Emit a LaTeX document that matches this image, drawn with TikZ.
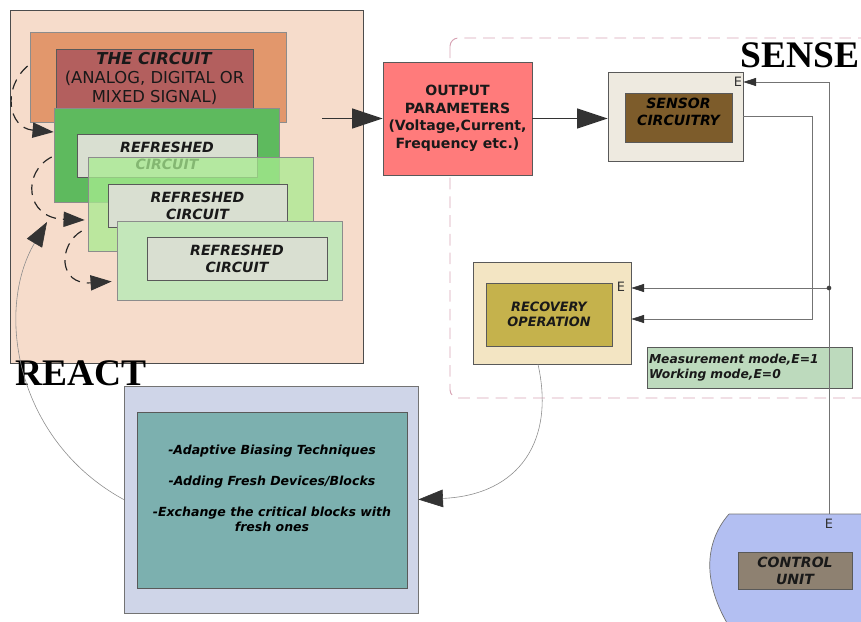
\documentclass[tikz,border=0pt]{standalone}
\usepackage{fontspec}
\setmainfont{DejaVu Sans}
\newfontfamily\bigserif{Liberation Serif}
\usetikzlibrary{arrows.meta}

\definecolor{peach}{HTML}{F6DCCB}
\definecolor{orangeb}{HTML}{E2976C}
\definecolor{circred}{HTML}{B35F5E}
\definecolor{grnA}{HTML}{5EBA5E}
\definecolor{grayin}{HTML}{D9DFD1}
\definecolor{grnB}{HTML}{A8EC90}
\definecolor{grnC}{HTML}{C3E7BA}
\definecolor{outred}{HTML}{FF7B7B}
\definecolor{sensbg}{HTML}{EEEAE0}
\definecolor{sensin}{HTML}{7D5C2B}
\definecolor{recbg}{HTML}{F3E5C3}
\definecolor{recin}{HTML}{C5B24C}
\definecolor{modebg}{HTML}{BDDABD}
\definecolor{reactbg}{HTML}{CFD5E8}
\definecolor{reactin}{HTML}{7CB0AF}
\definecolor{ctrlbg}{HTML}{B3BFF2}
\definecolor{ctrlin}{HTML}{8E8171}
\definecolor{sensepink}{HTML}{D7A3B4}
\definecolor{tipgray}{HTML}{333333}

\tikzset{
  blk/.style={draw=black!65, line width=0.6pt, inner sep=0pt, align=center, text=black!90},
  txtA/.style={font=\fontsize{12}{14.5}\selectfont\bfseries\itshape},
  txtB/.style={font=\fontsize{11}{13}\selectfont\bfseries\itshape},
  txtC/.style={font=\fontsize{10.7}{12.5}\selectfont\bfseries\itshape},
  elbl/.style={font=\fontsize{11}{13}\selectfont, text=black!80, inner sep=0pt},
  wire/.style={draw=black!55, line width=0.6pt},
  thinwire/.style={draw=black!45, line width=0.5pt},
  mainar/.style={draw=tipgray, line width=1pt, -{Triangle[length=26pt,width=17pt]}},
  smallar/.style={-{Triangle[length=11pt,width=7pt,color=tipgray]}},
  loopar/.style={draw=black!85, line width=1pt, dash pattern=on 9pt off 6pt,
    -{Triangle[length=18pt,width=13pt,color=tipgray]}},
  reactar/.style={thinwire, -{Triangle[length=21pt,width=15pt,color=tipgray]}},
}

\begin{document}
\begin{tikzpicture}[x=0.03cm, y=-0.03cm]
  \useasboundingbox (0,0) rectangle (861,622);
  \clip (0,0) rectangle (861,622);

  % Sense region
  \draw[sensepink, line width=0.8pt, dash pattern=on 10pt off 6pt, rounded corners=0.25cm]
    (450,38) rectangle (900,398);
  \node[font=\bigserif\fontsize{32}{36}\selectfont\bfseries, anchor=base west, inner sep=0pt]
    (sense) at (740,68) {SENSE};

  % Circuit stack
  \node[blk, fill=peach, draw=black!70, minimum width=10.59cm, minimum height=10.59cm]
    (circzone) at (186.5,186.5) {};
  \node[blk, fill=orangeb, draw=black!45, minimum width=7.68cm, minimum height=2.7cm]
    (orig) at (158,77) {};
  \node[blk, fill=circred, minimum width=5.91cm, minimum height=1.77cm,
    font=\fontsize{14}{16.5}\selectfont] (circ) at (154.5,78.5)
    {\textbf{\textit{THE CIRCUIT}}\\(ANALOG, DIGITAL OR\\MIXED SIGNAL)};
  \node[blk, fill=grnA, draw=black!45, minimum width=6.75cm, minimum height=2.82cm]
    (refA) at (166.5,155) {};
  \node[blk, fill=grayin, txtA, minimum width=5.4cm, minimum height=1.29cm]
    (refAin) at (167,155.5) {REFRESHED\\CIRCUIT};
  \node[blk, fill=grnB, fill opacity=0.75, draw=black!45, minimum width=6.75cm, minimum height=2.82cm]
    (refB) at (200.5,204) {};
  \node[blk, fill=grayin, txtA, minimum width=5.37cm, minimum height=1.29cm]
    (refBin) at (197.5,205.5) {REFRESHED\\CIRCUIT};
  \node[blk, fill=grnC, draw=black!45, minimum width=6.75cm, minimum height=2.37cm]
    (refC) at (229.5,260.5) {};
  \node[blk, fill=grayin, txtA, minimum width=5.4cm, minimum height=1.29cm]
    (refCin) at (237,258.5) {REFRESHED\\CIRCUIT};

  % Refresh loops
  \draw[loopar] ([shift={(-2,-11)}]orig.west) .. controls (2,88) and (8,128) .. ([shift={(0,-23)}]refA.west);
  \draw[loopar] ([shift={(-2,2)}]refA.west) .. controls (22,172) and (25,218) .. ([shift={(-3,16)}]refB.west);
  \draw[loopar] ([shift={(-6,27)}]refB.west) .. controls (58,245) and (58,285) .. ([shift={(-5,21)}]refC.west);

  % Output and sensor
  \node[blk, fill=outred, font=\fontsize{12}{15}\selectfont\bfseries,
    minimum width=4.47cm, minimum height=3.39cm] (output) at (457.5,118.5)
    {OUTPUT\\PARAMETERS\\(Voltage,Current,\\Frequency etc.)};
  \coordinate (cirout) at (322,118.5);
  \draw[mainar] (cirout) -- (output.west);

  \node[blk, fill=sensbg, minimum width=4.05cm, minimum height=2.67cm] (sensout) at (675.5,116.5) {};
  \node[blk, fill=sensin, minimum width=3.21cm, minimum height=1.47cm] (sensin) at (678.5,117.5) {};
  \node[txtA, align=center, inner sep=0pt] (senstxt) at (678.5,111.5) {SENSOR\\CIRCUITRY};
  \node[elbl] (sensE) at (738,82) {E};
  \draw[mainar] (output.east) -- (output.east -| sensout.west);

  % Recovery
  \node[blk, fill=recbg, minimum width=4.74cm, minimum height=3.06cm] (recov) at (552,313) {};
  \node[blk, fill=recin, txtB, minimum width=3.78cm, minimum height=1.89cm]
    (recin) at (549,314.5) {RECOVERY\\OPERATION};
  \node[elbl] (recE) at (621,287) {E};
  \node[blk, fill=modebg, align=left, inner xsep=0.06cm, text width=6.03cm, minimum height=1.23cm,
    font=\fontsize{10.5}{12.8}\selectfont\bfseries\itshape] (mode) at (749.5,367.5)
    {Measurement mode,E=1\\Working mode,E=0};

  % Control unit
  \fill[ctrlbg, draw=black!55, line width=0.6pt] (729,514) -- (880,514) -- (880,640) -- (738,640)
    .. controls (702,590) and (702,545) .. (729,514);
  \node[blk, fill=ctrlin, txtA, minimum width=3.42cm, minimum height=1.11cm]
    (ctrl) at (795,570.5) {CONTROL\\UNIT};
  \node[elbl] (cuE) at (829,524) {E};
  \coordinate (cutop) at (829,514);
  \coordinate (tap) at (829,288);
  \coordinate (sdrop) at (812,319);

  % Enable and sensor lines
  \draw[wire, smallar] (cutop) -- (cutop |- sensE) -- (sensout.east |- sensE);
  \draw[wire, smallar] (tap) -- (tap -| recov.east);
  \fill[black!75] (tap) circle[radius=2pt];
  \draw[wire, smallar] (sensout.east) -| (sdrop) -- (sdrop -| recov.east);

  % React
  \node[font=\bigserif\fontsize{32}{36}\selectfont\bfseries, anchor=base west, inner sep=0pt]
    (react) at (15,385) {REACT};
  \node[blk, fill=reactbg, draw=black!55, minimum width=8.82cm, minimum height=6.81cm]
    (reactout) at (271,499.5) {};
  \node[blk, fill=reactin, minimum width=8.1cm, minimum height=5.28cm] (reactin) at (272,500) {};
  \node[txtC, align=center, inner sep=0pt] (reacttxt) at (272,488)
    {-Adaptive Biasing Techniques\\[14pt]-Adding Fresh Devices/Blocks\\[14pt]-Exchange the critical blocks with\\fresh ones};

  \draw[reactar] ([xshift=-0.42cm]recov.south) .. controls (555,440) and (520,495) .. (reactout.east);
  \coordinate (backin) at (47,222);
  \draw[reactar] (reactout.west) .. controls (15,440) and (-5,310) .. (backin);
\end{tikzpicture}
\end{document}
